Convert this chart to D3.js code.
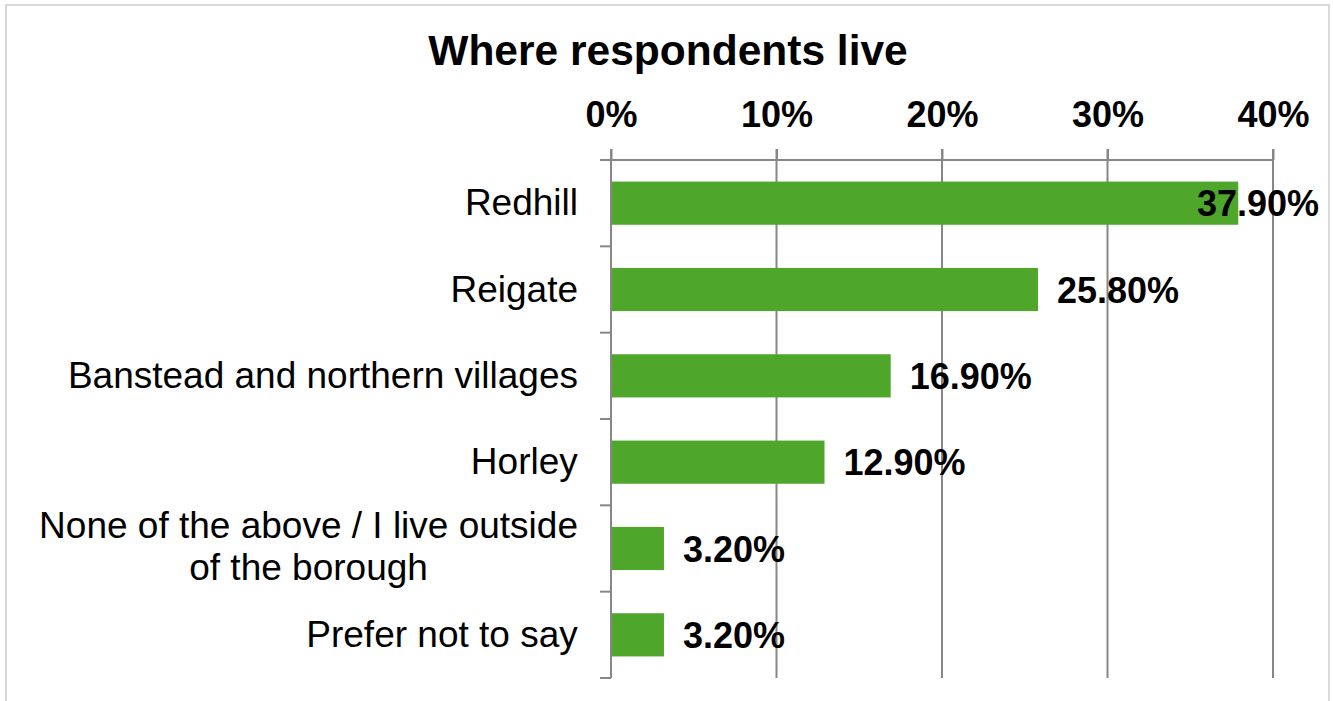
<!DOCTYPE html>
<html>
<head>
<meta charset="utf-8">
<script src="https://cdn.jsdelivr.net/npm/d3@7"></script>
<style>
  html, body { margin: 0; padding: 0; background: #ffffff; }
  svg { display: block; }
  text { font-family: "Liberation Sans", Arial, sans-serif; fill: #000; }
</style>
</head>
<body>
<svg id="chart" width="1333" height="701"></svg>
<script>
// Survey answers: where respondents live
const categories = [
  ["Redhill"],
  ["Reigate"],
  ["Banstead and northern villages"],
  ["Horley"],
  ["None of the above / I live outside", "of the borough"],
  ["Prefer not to say"]
];
const values = [37.9, 25.8, 16.9, 12.9, 3.2, 3.2];
const tickValues = [0, 10, 20, 30, 40];
const tickLabels = ["0%", "10%", "20%", "30%", "40%"];
const chartTitle = "Where respondents live";

const svg = d3.select("#chart");

const plot = { left: 611, right: 1273, top: 160, bottom: 678 };
const green = "#4ea72a";
const gridColor = "#878787";

// outer chart frame
svg.append("rect")
  .attr("x", 6).attr("y", 5)
  .attr("width", 1323).attr("height", 710)
  .attr("fill", "none")
  .attr("stroke", "#d9d9d9")
  .attr("stroke-width", 2);

// title
svg.append("text")
  .attr("x", 668).attr("y", 65)
  .attr("text-anchor", "middle")
  .style("font-size", "42.5px")
  .style("font-weight", "bold")
  .text(chartTitle);

const x = d3.scaleLinear().domain([0, 40]).range([plot.left, plot.right]);
const idx = d3.range(values.length);
const y = d3.scaleBand().domain(idx).range([plot.top, plot.bottom])
  .paddingInner(0.5).paddingOuter(0.25);
const yBands = d3.scaleBand().domain(idx).range([plot.top, plot.bottom]);

// vertical gridlines with outward tick marks above the axis line
svg.append("g").selectAll("line")
  .data(tickValues.filter(t => t > 0))
  .join("line")
  .attr("x1", d => x(d)).attr("x2", d => x(d))
  .attr("y1", plot.top - 11).attr("y2", plot.bottom)
  .attr("stroke", gridColor).attr("stroke-width", 2);

// top value axis
const xAxis = d3.axisTop(x).tickValues(tickValues)
  .tickFormat((d, i) => tickLabels[i]).tickSize(11).tickPadding(22);
const gx = svg.append("g").attr("transform", `translate(0,${plot.top})`).call(xAxis);
gx.select(".domain").remove();
gx.selectAll(".tick line").attr("stroke", gridColor).attr("stroke-width", 2);
gx.selectAll(".tick text")
  .style("font-size", "36px").style("font-weight", "bold")
  .attr("fill", "#000")
  .style("font-family", '"Liberation Sans", Arial, sans-serif');
svg.append("line")
  .attr("x1", plot.left - 11).attr("x2", plot.right)
  .attr("y1", plot.top).attr("y2", plot.top)
  .attr("stroke", gridColor).attr("stroke-width", 2);

// bars
svg.append("g").selectAll("rect")
  .data(values)
  .join("rect")
  .attr("x", x(0))
  .attr("y", (d, i) => y(i))
  .attr("width", d => x(d) - x(0))
  .attr("height", y.bandwidth())
  .attr("fill", green);

// category axis with ticks at band boundaries
svg.append("line")
  .attr("x1", plot.left).attr("x2", plot.left)
  .attr("y1", plot.top - 11).attr("y2", plot.bottom)
  .attr("stroke", gridColor).attr("stroke-width", 2);
const bounds = idx.map(i => yBands(i)).concat([plot.bottom]);
svg.append("g").selectAll("line")
  .data(bounds)
  .join("line")
  .attr("x1", plot.left - 11).attr("x2", plot.left)
  .attr("y1", d => d).attr("y2", d => d)
  .attr("stroke", gridColor).attr("stroke-width", 2);

// category labels (right-aligned block, lines centred within it)
categories.forEach((lines, i) => {
  const cy = y(i) + y.bandwidth() / 2;
  const g = svg.append("g");
  const lh = 42;
  const t = g.append("text")
    .style("font-size", "37px")
    .attr("text-anchor", "middle");
  lines.forEach((ln, k) => {
    t.append("tspan")
      .attr("x", 0)
      .attr("y", cy + 12 + (k - (lines.length - 1) / 2) * lh - (lines.length > 1 ? 2 : 0))
      .text(ln);
  });
  const bb = t.node().getBBox();
  g.attr("transform", `translate(${578 - bb.width / 2},0)`);
});

// value labels, kept inside the plot's right edge
svg.append("g").selectAll("text")
  .data(values)
  .join("text")
  .attr("y", (d, i) => y(i) + y.bandwidth() / 2 + 13)
  .style("font-size", "36px")
  .style("font-weight", "bold")
  .text(d => d3.format(".2f")(d) + "%")
  .attr("x", function (d) {
    const w = this.getComputedTextLength();
    return Math.min(x(d) + 19, 1319 - w);
  });
</script>
</body>
</html>
